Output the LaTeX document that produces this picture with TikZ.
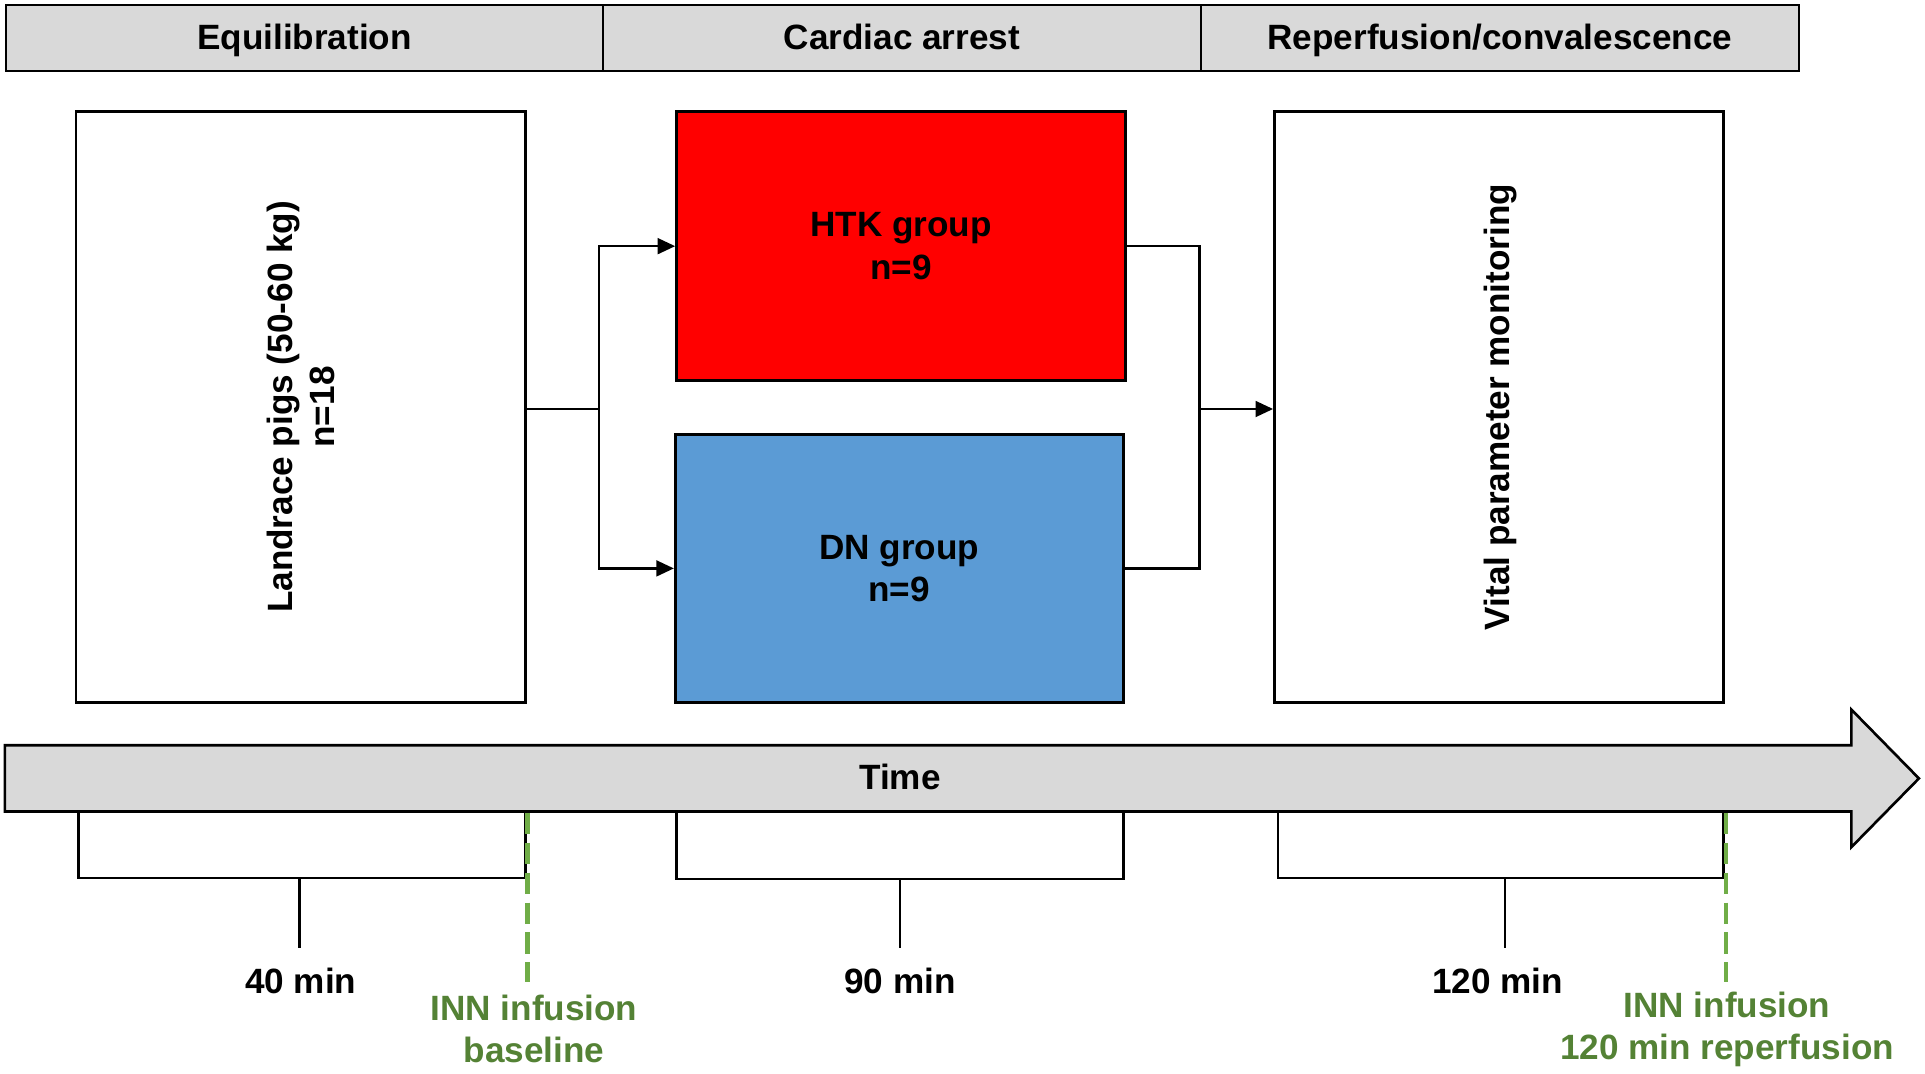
\documentclass[tikz,border=0pt]{standalone}
\usepackage{fontspec}
\setmainfont{Liberation Sans}
\usetikzlibrary{fit,arrows.meta}
\definecolor{hdrgray}{HTML}{D9D9D9}
\definecolor{htkred}{HTML}{FF0000}
\definecolor{dnblue}{HTML}{5B9BD5}
\definecolor{dashgreen}{HTML}{70AD47}
\definecolor{txtgreen}{HTML}{548235}
\tikzset{
  hdr/.style={draw=black, line width=1.5pt, fill=hdrgray, inner sep=0pt},
  box/.style={draw=black, line width=1.5pt, inner sep=0pt},
  lbl/.style={font=\fontsize{20}{24}\selectfont\bfseries, align=center},
  one/.style={lbl, text height=1.5ex, text depth=0.3ex},
  onedown/.style={one, yshift=-3.4pt},
  conn/.style={line width=1.4pt},
  arr/.style={line width=1.4pt, -{Triangle[length=10pt,width=9pt]}},
  brk/.style={line width=1.4pt},
  inn/.style={draw=dashgreen, line width=2.8pt, dash pattern=on 12pt off 5pt},
  green/.style={lbl, text=txtgreen}
}
\begin{document}
\begin{tikzpicture}[x=0.02cm, y=-0.02cm]
\useasboundingbox (0,0) rectangle (1925,1073);
% header
\node[hdr, fit={(6,5) (603,71)}] (h1) {};
\node[hdr, fit={(603,5) (1201,71)}] (h2) {};
\node[hdr, fit={(1201,5) (1799,71)}] (h3) {};
\node[onedown] (h1t) at (h1.center) {Equilibration};
\node[onedown] (h2t) at (h2.center) {Cardiac arrest};
\node[onedown] (h3t) at (h3.center) {Reperfusion/convalescence};
% boxes
\node[box, fit={(76,111.7) (525.5,702.2)}] (land) {};
\node[lbl, rotate=90] (landt) at (land.center) {Landrace pigs (50-60 kg)\\n=18};
\node[box, fill=htkred, fit={(676.5,111.7) (1125.8,380.6)}] (htk) {};
\node[lbl] (htkt) at (htk.center) {HTK group\\n=9};
\node[box, fill=dnblue, fit={(675.2,434.6) (1123.3,702.2)}] (dn) {};
\node[lbl] (dnt) at (dn.center) {DN group\\n=9};
\node[box, fit={(1274.4,111.7) (1723.7,702.2)}] (vital) {};
\node[one, rotate=90] (vitalt) at (1504,407) {Vital parameter monitoring};
% connectors
\coordinate (split) at (599.1,409);
\coordinate (merge) at (1199.5,409);
\draw[conn] (land.east |- split) -- (split);
\draw[arr] (split) |- (htk.west);
\draw[arr] (split) |- (dn.west);
\draw[conn] (htk.east) -| (merge);
\draw[conn] (dn.east) -| (merge);
\draw[arr] (merge) -- (vital.west |- merge);
% time arrow
\draw[line width=1.5pt, fill=hdrgray] (4.9,745.2) -- (1851.4,745.2) -- (1851.4,709.6) -- (1918.9,778.4) -- (1851.4,847.1) -- (1851.4,811.5) -- (4.9,811.5) -- cycle;
\node[onedown] (time) at (900,778) {Time};
% brackets
\draw[brk] (78.6,811.5) -- (78.6,877.8) -- (525.5,877.8) -- (525.5,811.5);
\draw[brk] (299.6,877.8) -- (299.6,947.8);
\draw[brk] (676.5,811.5) -- (676.5,879) -- (1123.3,879) -- (1123.3,811.5);
\draw[brk] (899.9,879) -- (899.9,947.8);
\draw[brk] (1278,811.5) -- (1278,877.8) -- (1723.7,877.8) -- (1723.7,811.5);
\draw[brk] (1505.2,877.8) -- (1505.2,947.8);
\node[onedown] (t40) at (300.8,982) {40 min};
\node[onedown] (t90) at (900,982) {90 min};
\node[onedown] (t120) at (1497.8,982) {120 min};
% INN markers
\draw[inn] (527.9,813) -- (527.9,982);
\draw[inn] (1726,813) -- (1726,982);
\node[green] (inn1) at (534,1029) {INN infusion\\baseline};
\node[green] (inn2) at (1727,1029) {INN infusion\\120 min reperfusion};
\end{tikzpicture}
\end{document}
